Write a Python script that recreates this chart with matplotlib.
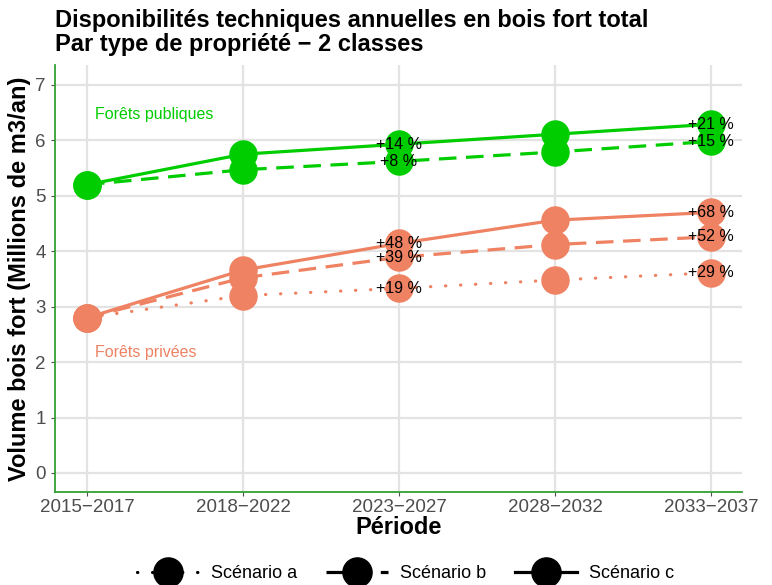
import numpy as np
import matplotlib
matplotlib.use("Agg")
import matplotlib.pyplot as plt
from matplotlib.lines import Line2D

plt.rcParams['font.family'] = ['Liberation Sans', 'DejaVu Sans']

periodes = ['2015\u22122017', '2018\u22122022', '2023\u22122027', '2028\u22122032', '2033\u22122037']

# Forêts publiques
pub_b = [5.20, 5.47, 5.62, 5.79, 5.98]
pub_c = [5.20, 5.75, 5.93, 6.11, 6.29]
# Forêts privées
priv_a = [2.80, 3.20, 3.33, 3.48, 3.61]
priv_b = [2.80, 3.52, 3.89, 4.12, 4.26]
priv_c = [2.80, 3.66, 4.14, 4.56, 4.70]

# labels shown at 2023-2027 and 2033-2037
lab_idx = [2, 4]
pub_b_lab = ['+8 %', '+15 %']
pub_c_lab = ['+14 %', '+21 %']
priv_a_lab = ['+19 %', '+29 %']
priv_b_lab = ['+39 %', '+52 %']
priv_c_lab = ['+48 %', '+68 %']

green = '#00CD00'
salmon = '#EE8262'

fig = plt.figure(figsize=(7.72, 5.85), dpi=100)
ax = fig.add_axes([0.0712, 0.159, 0.890, 0.730])

x = np.arange(len(periodes))
styles = {'a': (0, (0.1, 4.6)), 'b': (0, (5.5, 3.0)), 'c': '-'}
ms = 19.5
lw = 2.3

series = [
    (pub_b, 'b', green, pub_b_lab),
    (pub_c, 'c', green, pub_c_lab),
    (priv_a, 'a', salmon, priv_a_lab),
    (priv_b, 'b', salmon, priv_b_lab),
    (priv_c, 'c', salmon, priv_c_lab),
]
for vals, sc, col, labs in series:
    ax.plot(x, vals, linestyle=styles[sc], color=col, lw=lw, zorder=2,
            dash_capstyle='round' if sc == 'a' else 'butt')
    ax.plot(x, vals, linestyle='none', marker='o', ms=ms, color=col, zorder=3)
for vals, sc, col, labs in series:
    for i, t in zip(lab_idx, labs):
        ax.text(x[i], vals[i], t, ha='center', va='center', fontsize=11.5,
                color='black', zorder=5)

ax.text(0.05, 6.46, 'Forêts publiques', color=green, fontsize=11.5, va='center')
ax.text(0.05, 2.17, 'Forêts privées', color=salmon, fontsize=11.5, va='center')

ax.set_xlim(-0.205, 4.199)
ax.set_ylim(-0.343, 7.36)
ax.set_xticks(x)
ax.set_xticklabels(periodes)
ax.set_yticks(range(0, 8))
ax.tick_params(axis='both', colors='#4D4D4D', labelsize=13.5, length=3)
ax.tick_params(axis='x', pad=2)
ax.grid(True, color='#E3E3E3', lw=1.6)
ax.set_axisbelow(True)
for s in ['top', 'right']:
    ax.spines[s].set_visible(False)
for s in ['left', 'bottom']:
    ax.spines[s].set_color('#33A033')
    ax.spines[s].set_linewidth(1.3)

ax.set_xlabel('Période', fontsize=17, fontweight='bold', labelpad=0)
ax.set_ylabel('Volume bois fort (Millions de m3/an)', fontsize=17, fontweight='bold', labelpad=3)

fig.text(0.0712, 1 - 9 / 585, 'Disponibilités techniques annuelles en bois fort total\nPar type de propriété \u2212 2 classes',
         fontsize=17, fontweight='bold', va='top', ha='left', linespacing=1.05)

handles = [Line2D([], [], color='black', linestyle=styles[k], lw=lw, marker='o', ms=21,
                  dash_capstyle='round' if k == 'a' else 'butt')
           for k in ['a', 'b', 'c']]
fig.legend(handles, ['Scénario a', 'Scénario b', 'Scénario c'], loc='center',
           ncol=3, frameon=False, fontsize=13, bbox_to_anchor=(406 / 772, 1 - 574 / 585),
           handlelength=3.4, columnspacing=1.6, handletextpad=0.7)

fig.savefig('out.png', dpi=100)
